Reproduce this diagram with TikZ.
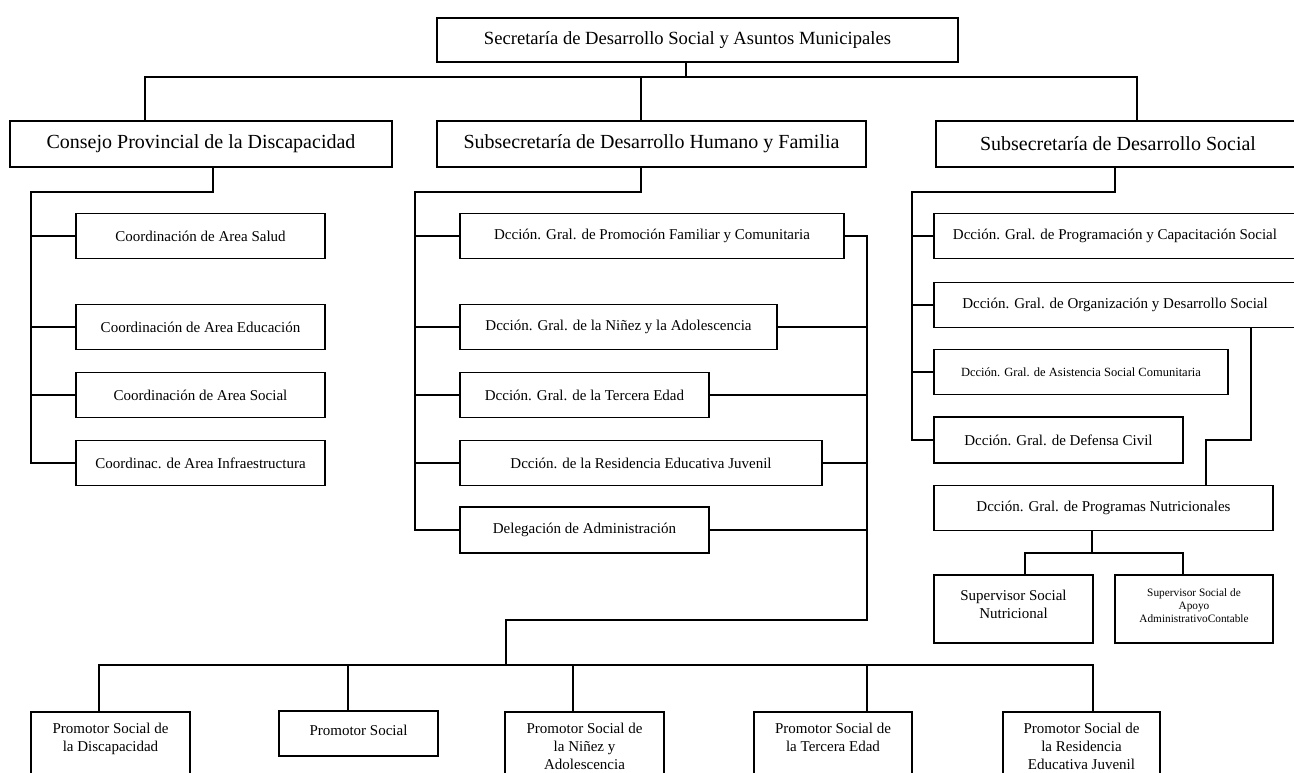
\documentclass[tikz,border=0pt]{standalone}
\usepackage{fontspec}
\setmainfont{Liberation Serif}

\begin{document}
\begin{tikzpicture}[x=1pt,y=-1pt,
	caja/.style={draw,line width=1.5pt,inner sep=0pt,minimum height=45pt,align=center,font=\fontsize{15}{18}\selectfont},
	nivel/.style={minimum height=46pt,font=\fontsize{20}{24}\selectfont},
	cajaalta/.style={caja,anchor=north,inner xsep=0pt,inner ysep=11pt,minimum height=0pt,minimum width=159pt},
	lin/.style={line width=1.5pt}]
	\useasboundingbox (0,0) rectangle (1294,773);
	\fill[white] (0,0) rectangle (1294,773);
	\clip (0,0) rectangle (1294,773);
	% cabecera
	\node[caja,minimum width=521pt,minimum height=44pt,font=\fontsize{18.6}{22}\selectfont] (sec) at (697.5,40) {Secretaría de Desarrollo Social y Asuntos Municipales\hspace{20pt}};
	\node[caja,nivel,minimum width=382pt] (consejo) at (201,144) {Consejo Provincial de la Discapacidad};
	\node[caja,nivel,minimum width=429pt] (subdhf) at (651.5,144) {Subsecretaría de Desarrollo Humano y Familia};
	\node[caja,nivel,minimum width=364pt] (subds) at (1118,144) {Subsecretaría de Desarrollo Social};
	% columna izquierda
	\node[caja,minimum width=249pt] (salud) at (200.5,236) {Coordinación de Area Salud};
	\node[caja,minimum width=249pt] (educacion) at (200.5,327) {Coordinación de Area Educación};
	\node[caja,minimum width=249pt] (social) at (200.5,395) {Coordinación de Area Social};
	\node[caja,minimum width=249pt] (infra) at (200.5,463) {Coordinac. de Area Infraestructura};
	% columna central
	\node[caja,minimum width=384pt] (promfam) at (652,236) {Dcción. Gral. de Promoción Familiar y Comunitaria};
	\node[caja,minimum width=317pt] (ninez) at (618.5,327) {Dcción. Gral. de la Niñez y la Adolescencia};
	\node[caja,minimum width=249pt] (tercera) at (584.5,395) {Dcción. Gral. de la Tercera Edad};
	\node[caja,minimum width=362pt] (residencia) at (641,463) {Dcción. de la Residencia Educativa Juvenil};
	\node[caja,minimum width=249pt,minimum height=46pt] (delegacion) at (584.5,530) {Delegación de Administración};
	% columna derecha
	\node[caja,minimum width=362pt] (progcap) at (1115,236) {Dcción. Gral. de Programación y Capacitación Social};
	\node[caja,minimum width=362pt] (organiz) at (1115,305) {Dcción. Gral. de Organización y Desarrollo Social};
	\node[caja,minimum width=294pt,font=\fontsize{12.5}{15}\selectfont] (asist) at (1081,372) {Dcción. Gral. de Asistencia Social Comunitaria};
	\node[caja,minimum width=249pt,minimum height=46pt] (defensa) at (1058.5,440) {Dcción. Gral. de Defensa Civil};
	\node[caja,minimum width=339pt] (prognut) at (1103.5,508) {Dcción. Gral. de Programas Nutricionales};
	\node[caja,minimum width=159pt,minimum height=68pt] (supnut) at (1013.5,609) {Supervisor Social\\Nutricional\\[-9pt]\mbox{}};
	\node[caja,minimum width=158pt,minimum height=68pt,font=\fontsize{11.3}{13}\selectfont] (supapoyo) at (1194,609) {Supervisor Social de\\Apoyo\\AdministrativoContable\\[-7pt]\mbox{}};
	% promotores
	\node[cajaalta] (psdisc) at (110.5,711) {Promotor Social de\\la Discapacidad\\ \mbox{}};
	\node[caja,minimum width=159pt] (psocial) at (358.5,733.5) {Promotor Social\\[-12pt]\mbox{}};
	\node[cajaalta] (psninez) at (584.5,711) {Promotor Social de\\la Niñez y\\Adolescencia};
	\node[cajaalta,minimum width=158pt] (pstercera) at (833,711) {Promotor Social de\\la Tercera Edad\\ \mbox{}};
	\node[cajaalta,minimum width=157pt] (psresid) at (1081.5,711) {Promotor Social de\\la Residencia\\Educativa Juvenil};
	% conectores
	\draw[lin] (sec.south -| 686,0) -- (686,77);
	\draw[lin] (consejo.north -| 145,0) -- (145,77) -- (1137,77) -- (subds.north -| 1137,0);
	\draw[lin] (subdhf.north -| 641,0) -- (641,77);
	\draw[lin] (consejo.south -| 213,0) -- (213,192) -- (31,192) |- (infra.west);
	\foreach \n in {salud,educacion,social}
		\draw[lin] (\n.west -| 31,0) -- (\n.west);
	\draw[lin] (subdhf.south -| 641,0) -- (641,192) -- (415,192) |- (delegacion.west);
	\foreach \n in {promfam,ninez,tercera,residencia}
		\draw[lin] (\n.west -| 415,0) -- (\n.west);
	\draw[lin] (promfam.east) -- (867,236) -- (867,620) -- (506,620) -- (506,665);
	\foreach \n in {ninez,tercera,residencia,delegacion}
		\draw[lin] (\n.east) -- (\n.east -| 867,0);
	\draw[lin] (psdisc.north -| 99,0) -- (99,665) -- (1093,665) -- (psresid.north -| 1093,0);
	\foreach \n/\x in {psocial/348,psninez/573,pstercera/867}
		\draw[lin] (\n.north -| \x,0) -- (\x,665);
	\draw[lin] (subds.south -| 1115,0) -- (1115,192) -- (912,192) |- (defensa.west);
	\foreach \n in {progcap,organiz,asist}
		\draw[lin] (\n.west -| 912,0) -- (\n.west);
	\draw[lin] (organiz.south -| 1251,0) -- (1251,440) -- (1206,440) -- (prognut.north -| 1206,0);
	\draw[lin] (prognut.south -| 1092,0) -- (1092,553);
	\draw[lin] (supnut.north -| 1025,0) -- (1025,553) -- (1183,553) -- (supapoyo.north -| 1183,0);
\end{tikzpicture}
\end{document}
